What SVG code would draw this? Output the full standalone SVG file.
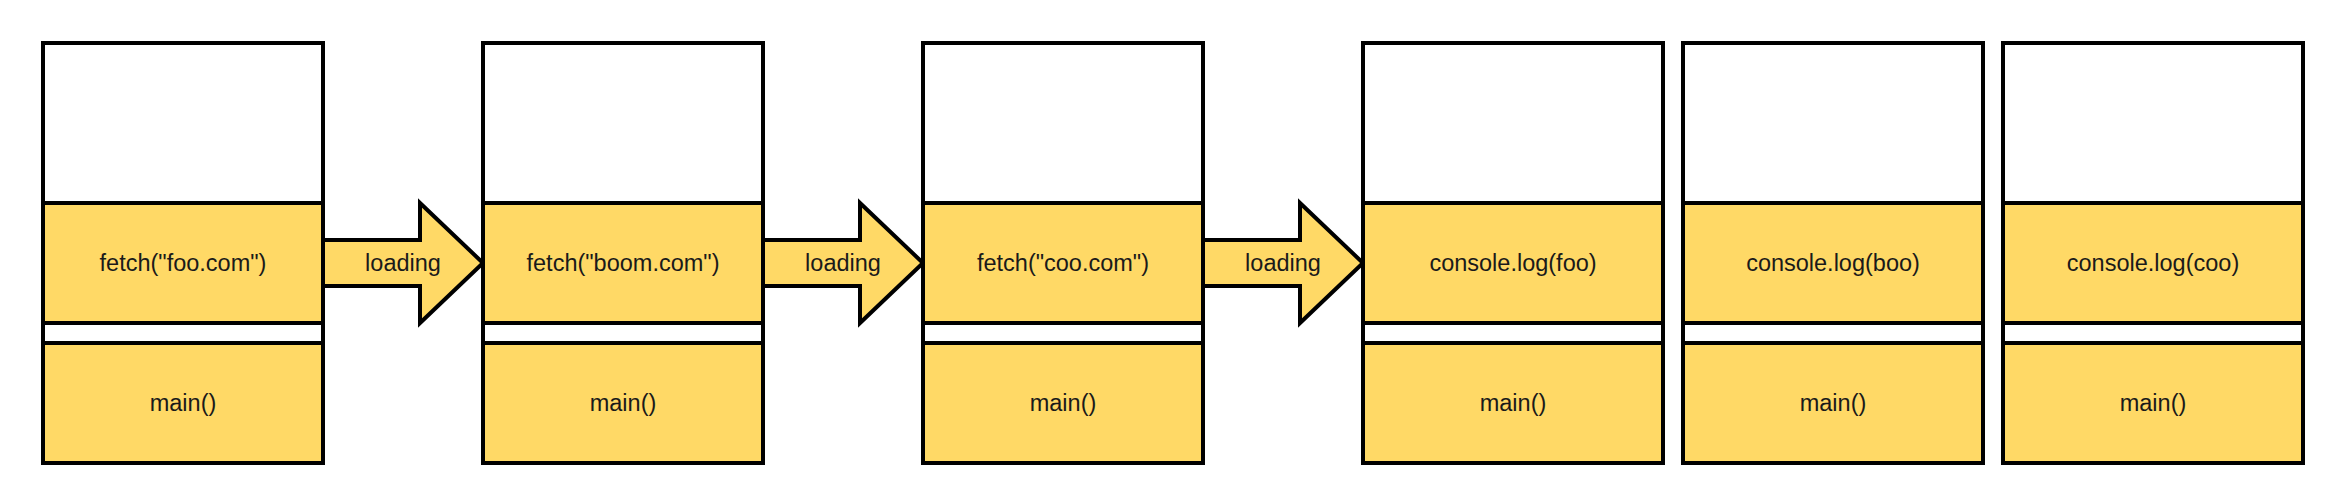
<svg xmlns="http://www.w3.org/2000/svg" width="2344" height="504" viewBox="0 0 2344 504">
<style>
.w{fill:#FFFFFF;stroke:#000;stroke-width:4}
.y{fill:#FFD966;stroke:#000;stroke-width:4}
.t{font-family:"Liberation Sans",Arial,sans-serif;font-size:23.5px;fill:#1a1a1a;text-anchor:middle}
</style>
<rect width="2344" height="504" fill="#FFFFFF"/>
<g id="connectors">
  <g id="arrow1"><path class="y" d="M323,240 H420 V203 L483,263 L420,323 V286 H323 Z"/><text class="t" x="403" y="271">loading</text></g>
  <g id="arrow2"><path class="y" d="M763,240 H860 V203 L923,263 L860,323 V286 H763 Z"/><text class="t" x="843" y="271">loading</text></g>
  <g id="arrow3"><path class="y" d="M1203,240 H1300 V203 L1363,263 L1300,323 V286 H1203 Z"/><text class="t" x="1283" y="271">loading</text></g>
</g>
<g id="stack1">
  <rect class="w" x="43" y="43" width="280" height="160"/>
  <rect class="y" x="43" y="203" width="280" height="120"/><text class="t" x="183" y="271">fetch("foo.com")</text>
  <rect class="w" x="43" y="323" width="280" height="20"/>
  <rect class="y" x="43" y="343" width="280" height="120"/><text class="t" x="183" y="411">main()</text>
</g>
<g id="stack2">
  <rect class="w" x="483" y="43" width="280" height="160"/>
  <rect class="y" x="483" y="203" width="280" height="120"/><text class="t" x="623" y="271">fetch("boom.com")</text>
  <rect class="w" x="483" y="323" width="280" height="20"/>
  <rect class="y" x="483" y="343" width="280" height="120"/><text class="t" x="623" y="411">main()</text>
</g>
<g id="stack3">
  <rect class="w" x="923" y="43" width="280" height="160"/>
  <rect class="y" x="923" y="203" width="280" height="120"/><text class="t" x="1063" y="271">fetch("coo.com")</text>
  <rect class="w" x="923" y="323" width="280" height="20"/>
  <rect class="y" x="923" y="343" width="280" height="120"/><text class="t" x="1063" y="411">main()</text>
</g>
<g id="stack4">
  <rect class="w" x="1363" y="43" width="300" height="160"/>
  <rect class="y" x="1363" y="203" width="300" height="120"/><text class="t" x="1513" y="271">console.log(foo)</text>
  <rect class="w" x="1363" y="323" width="300" height="20"/>
  <rect class="y" x="1363" y="343" width="300" height="120"/><text class="t" x="1513" y="411">main()</text>
</g>
<g id="stack5">
  <rect class="w" x="1683" y="43" width="300" height="160"/>
  <rect class="y" x="1683" y="203" width="300" height="120"/><text class="t" x="1833" y="271">console.log(boo)</text>
  <rect class="w" x="1683" y="323" width="300" height="20"/>
  <rect class="y" x="1683" y="343" width="300" height="120"/><text class="t" x="1833" y="411">main()</text>
</g>
<g id="stack6">
  <rect class="w" x="2003" y="43" width="300" height="160"/>
  <rect class="y" x="2003" y="203" width="300" height="120"/><text class="t" x="2153" y="271">console.log(coo)</text>
  <rect class="w" x="2003" y="323" width="300" height="20"/>
  <rect class="y" x="2003" y="343" width="300" height="120"/><text class="t" x="2153" y="411">main()</text>
</g>
</svg>
